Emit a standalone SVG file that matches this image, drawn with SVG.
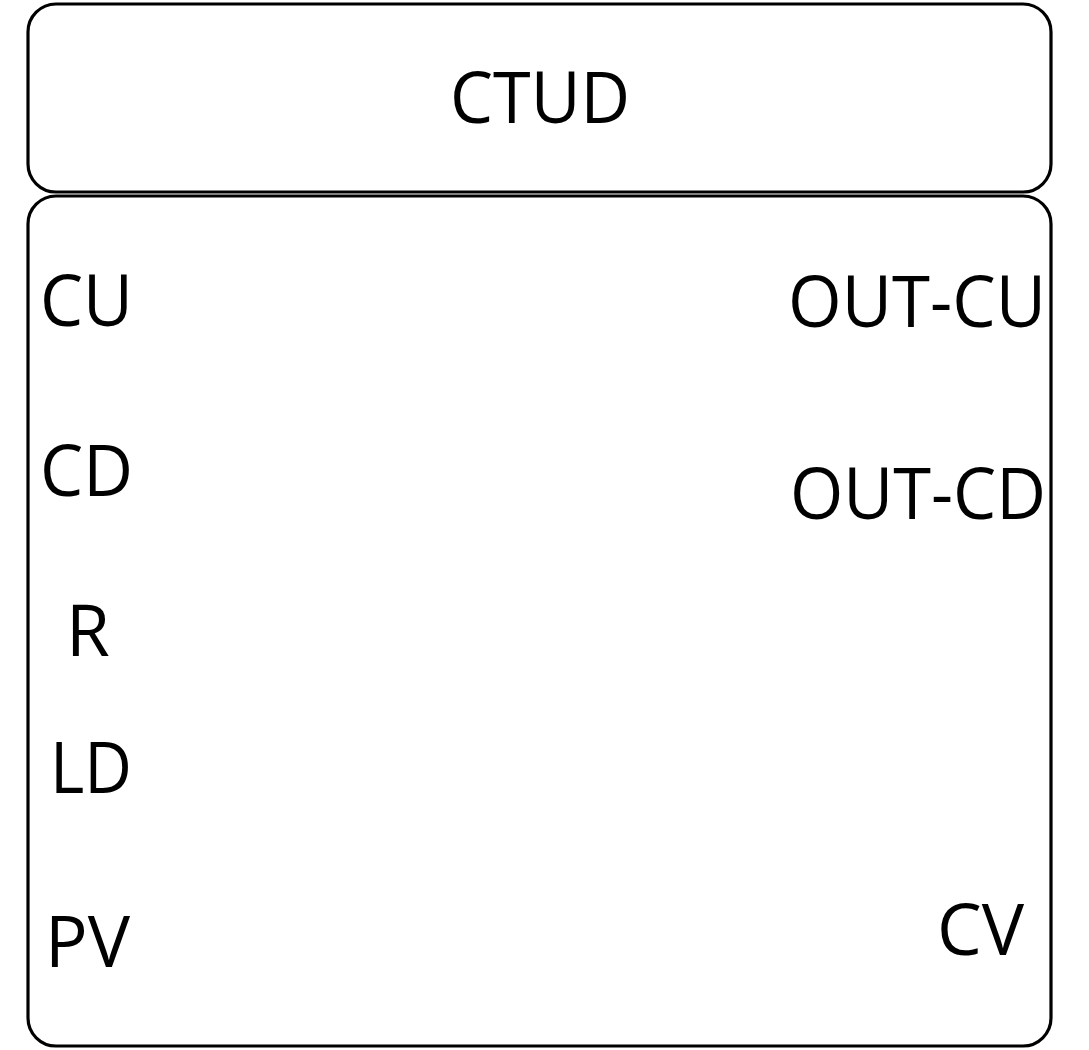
<svg xmlns="http://www.w3.org/2000/svg" width="1089" height="1050" viewBox="0 0 1089 1050">
<style>
.box{fill:#fff;stroke:#000;stroke-width:3.2}
.t{font-family:"Open Sans","Noto Sans","DejaVu Sans",sans-serif;font-size:71px;fill:#000}
</style>
<rect width="1089" height="1050" fill="#fff"/>
<g id="header">
<rect class="box" x="28" y="4" width="1023" height="188" rx="28" ry="28"/>
<text class="t" x="540" y="123" text-anchor="middle" textLength="180" lengthAdjust="spacingAndGlyphs">CTUD</text>
</g>
<g id="body">
<rect class="box" x="28" y="196" width="1023" height="850" rx="28" ry="28"/>
<text class="t" x="40" y="326" textLength="93" lengthAdjust="spacingAndGlyphs">CU</text>
<text class="t" x="40" y="496" textLength="93" lengthAdjust="spacingAndGlyphs">CD</text>
<text class="t" x="66" y="656">R</text>
<text class="t" x="50" y="793" textLength="82" lengthAdjust="spacingAndGlyphs">LD</text>
<text class="t" x="45" y="967">PV</text>
<text class="t" x="1024" y="955" text-anchor="end">CV</text>
<text class="t" x="1046" y="327" text-anchor="end" textLength="258" lengthAdjust="spacingAndGlyphs">OUT-CU</text>
<text class="t" x="1046" y="519" text-anchor="end" textLength="256" lengthAdjust="spacingAndGlyphs">OUT-CD</text>
</g>
<g id="connectors"></g>
</svg>
